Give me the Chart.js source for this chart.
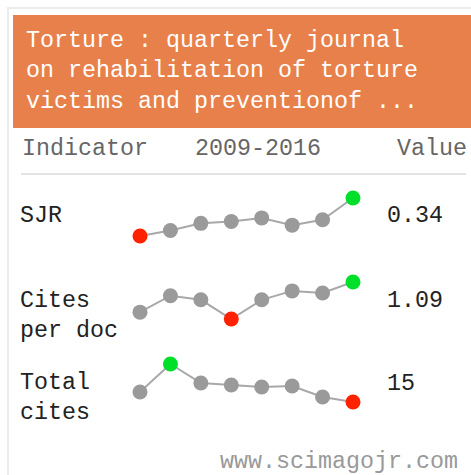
<!DOCTYPE html>
<html>
<head>
<meta charset="utf-8">
<script src="https://cdn.jsdelivr.net/npm/chart.js@4"></script>
<style>
  html, body { margin:0; padding:0; background:#fff; width:471px; height:475px; overflow:hidden; }
  body { position:relative; font-family:"Liberation Mono","DejaVu Sans Mono",monospace; font-size:23.33px; }
  .abs { position:absolute; white-space:pre; line-height:30px; }
  #frame { position:absolute; left:7px; top:7px; width:520px; height:520px; border:2px solid #ececec; box-sizing:border-box; }
  #head { position:absolute; left:13px; top:15px; width:470px; height:113px; background:#e8804c; }
  #title { color:#fff; left:26px; top:25.5px; line-height:30.5px; }
  .hdr { color:#666; top:134px; }
  #sep { position:absolute; left:21px; top:173px; width:445px; height:2px; background:#e4e4e4; }
  .lbl { color:#222; }
  .val { color:#222; left:387px; }
  #foot { color:#999; left:220px; top:447px; }
  canvas { position:absolute; }
</style>
</head>
<body>
<div id="frame"></div>
<div id="head"></div>
<div class="abs" id="title">Torture : quarterly journal
on rehabilitation of torture
victims and preventionof ...</div>
<div class="abs hdr" style="left:22px">Indicator</div>
<div class="abs hdr" style="left:195px">2009-2016</div>
<div class="abs hdr" style="left:397px">Value</div>
<div id="sep"></div>

<div class="abs lbl" style="left:20px; top:201px">SJR</div>
<div class="abs val" id="v0" style="top:201px"></div>
<div class="abs lbl" style="left:20px; top:286px">Cites
per doc</div>
<div class="abs val" id="v1" style="top:286px"></div>
<div class="abs lbl" style="left:20px; top:368px">Total
cites</div>
<div class="abs val" id="v2" style="top:369px"></div>
<div class="abs" id="foot">www.scimagojr.com</div>

<canvas id="c0" width="243" height="64" style="left:125px; top:185px"></canvas>
<canvas id="c1" width="243" height="63" style="left:125px; top:269px"></canvas>
<canvas id="c2" width="243" height="64" style="left:125px; top:351px"></canvas>

<script>
const years = ["2009","2010","2011","2012","2013","2014","2015","2016"];
const sjr = [0.13, 0.16, 0.20, 0.21, 0.23, 0.19, 0.22, 0.34];
const citesPerDoc = [0.65, 0.89, 0.83, 0.55, 0.83, 0.96, 0.93, 1.09];
const totalCites = [25, 53, 34, 32, 30, 31, 20, 15];
const valueLabels = ["0.34", "1.09", "15"];

const GRAY = "#9a9a9a", RED = "#ff2200", GREEN = "#00e02a";

function spark(id, data) {
  const lo = Math.min(...data), hi = Math.max(...data);
  const colors = data.map(v => v === lo ? RED : (v === hi ? GREEN : GRAY));
  new Chart(document.getElementById(id), {
    type: "line",
    data: {
      labels: years,
      datasets: [{
        data: data,
        borderColor: "#a8a8a8",
        borderWidth: 2,
        pointRadius: 7.5,
        pointBorderWidth: 0,
        pointBackgroundColor: colors,
        pointHoverRadius: 7.5,
        tension: 0,
        clip: false
      }]
    },
    options: {
      responsive: false,
      animation: false,
      devicePixelRatio: 1,
      layout: { padding: { left: 15, right: 15, top: 13, bottom: 13 } },
      plugins: { legend: { display: false }, tooltip: { enabled: false } },
      scales: {
        x: { display: false, offset: false },
        y: { display: false, min: lo, max: hi }
      }
    }
  });
}
spark("c0", sjr);
spark("c1", citesPerDoc);
spark("c2", totalCites);
valueLabels.forEach((t, i) => document.getElementById("v" + i).textContent = t);
</script>
</body>
</html>
